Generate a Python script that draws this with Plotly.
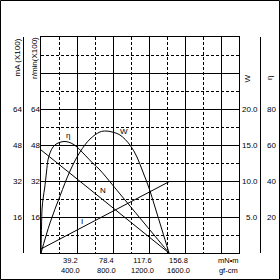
import plotly.graph_objects as go

# ---- data ----
torque_ticks = [39.2, 78.4, 117.6, 156.8]          # mN·m
gfcm_labels = ["400.0", "800.0", "1200.0", "1600.0"]
left_ticks = [16, 32, 48, 64]                      # mA(x100) and r/min(x100)
w_ticks = [5.0, 10.0, 15.0, 20.0]                  # W
eta_ticks = [20, 40, 60, 80]                       # %

# speed N (r/min x100) vs torque
n_torque = [0.0, 139.4]
n_speed = [45.8, 0.0]

# current I (mA x100) vs torque
i_torque = [0.0, 140.0]
i_current = [1.8, 31.8]

# output power W vs torque
w_torque = [0.0, 9.8, 20.7, 31.6, 42.5, 53.4, 64.2, 70.8, 77.3, 86.0, 96.9,
            104.5, 111.0, 117.6, 124.1, 131.8, 139.4]
w_power = [0.0, 4.17, 7.92, 11.39, 14.03, 15.83, 16.81, 16.94, 16.81, 16.39,
           15.0, 13.33, 11.25, 9.03, 6.39, 3.19, 0.0]

# efficiency eta (%) vs torque
e_torque = [0.0, 0.6, 1.2, 2.5, 4.0, 6.0, 7.6, 9.8, 13.1, 17.4, 22.9, 27.2,
            32.7, 39.2, 47.9, 56.6, 64.2, 86.0, 107.8, 124.1, 139.4]
e_eff = [0.0, 15.0, 25.0, 31.1, 36.1, 45.0, 51.7, 55.6, 58.9, 60.8, 61.8, 61.9,
         61.1, 58.9, 54.4, 49.8, 46.1, 32.8, 19.4, 9.4, 0.0]

FONT = dict(family="Liberation Sans", size=8, color="black")
FONT_X = dict(family="Liberation Sans", size=7.5, color="black")

# pixel geometry helpers for paper coordinates
L, R, T, B = 41, 239, 37, 253
def px(xp):
    return (xp - L) / (R - L)
def py(yp):
    return (B - yp) / (B - T)

fig = go.Figure()
line = dict(color="black", width=1)
fig.add_trace(go.Scatter(x=n_torque, y=n_speed, mode="lines", line=line, yaxis="y"))
fig.add_trace(go.Scatter(x=i_torque, y=i_current, mode="lines", line=line, yaxis="y"))
fig.add_trace(go.Scatter(x=w_torque, y=w_power, mode="lines",
                         line=dict(color="black", width=1, shape="spline"), yaxis="y2"))
fig.add_trace(go.Scatter(x=e_torque, y=e_eff, mode="lines",
                         line=dict(color="black", width=1, shape="spline"), yaxis="y3"))

grid_minor = dict(showgrid=True, gridcolor="black", gridwidth=1, griddash="3px,2px")
fig.update_layout(
    width=280, height=280,
    margin=dict(l=L, r=280 - R, t=T, b=280 - B, pad=0),
    paper_bgcolor="white", plot_bgcolor="white",
    showlegend=False,
    font=FONT,
    xaxis=dict(range=[0, 215.6], tick0=0, dtick=39.2, showgrid=True, gridcolor="black",
               gridwidth=1, showticklabels=False, ticks="", zeroline=False,
               showline=True, mirror=True, linecolor="black", linewidth=1,
               minor=dict(dtick=19.6, tick0=0, **grid_minor)),
    yaxis=dict(range=[0, 96], tick0=0, dtick=16, showgrid=True, gridcolor="black",
               gridwidth=1, showticklabels=False, ticks="", zeroline=False,
               showline=True, mirror=True, linecolor="black", linewidth=1,
               minor=dict(dtick=8, tick0=0, **grid_minor)),
    yaxis2=dict(range=[0, 30], overlaying="y", visible=False),
    yaxis3=dict(range=[0, 120], overlaying="y", visible=False),
)

def A(**kw):
    d = dict(showarrow=False, font=FONT, xanchor="center", yanchor="middle", borderpad=0)
    d.update(kw)
    return d

ann = []
# x tick labels (two rows, slightly left of the grid line)
for t, g in zip(torque_ticks, gfcm_labels):
    ann.append(A(x=t, xref="x", xshift=-7, y=py(265.5), yref="paper",
                 text=f"{t:.1f}<br>{g}", font=FONT_X))
ann.append(A(x=px(228), xref="paper", y=py(265.5), yref="paper",
             text="mN•m<br>gf-cm", font=FONT_X))
# left tick labels
for v in left_ticks:
    ann.append(A(x=px(22.5), xref="paper", y=v, yref="y", text=str(v), xanchor="right"))
    ann.append(A(x=px(40.5), xref="paper", y=v, yref="y", text=str(v), xanchor="right"))
# right tick labels
for w in w_ticks:
    ann.append(A(x=px(259), xref="paper", y=w, yref="y2", text=f"{w:.1f}", xanchor="right"))
for e in eta_ticks:
    ann.append(A(x=px(277), xref="paper", y=e, yref="y3", text=str(e), xanchor="right"))
# axis titles (rotated)
ann.append(A(x=px(16.5), xref="paper", y=py(58), yref="paper", text="mA (X100)",
             textangle=-90))
ann.append(A(x=px(34), xref="paper", y=py(58), yref="paper", text="r/min(X100)",
             textangle=-90))
ann.append(A(x=px(247), xref="paper", y=py(78.5), yref="paper", text="W",
             textangle=-90))
ann.append(A(x=px(269.5), xref="paper", y=py(78.5), yref="paper", text="η",
             textangle=-90))
# curve labels
ann.append(A(x=29.1, xref="x", y=52.4, yref="y", text="η"))
ann.append(A(x=90.4, xref="x", y=53.8, yref="y", text="W"))
ann.append(A(x=67.5, xref="x", y=27.8, yref="y", text="N"))
ann.append(A(x=44.1, xref="x", y=13.8, yref="y", text="I"))
fig.update_layout(annotations=ann)

shapes = [
    dict(type="rect", xref="paper", yref="paper", x0=px(0.5), x1=px(279.5),
         y0=py(279.5), y1=py(0.5), line=dict(color="black", width=1)),
    dict(type="line", xref="paper", yref="paper", x0=px(23.5), x1=px(23.5),
         y0=0, y1=1, line=dict(color="black", width=1)),
    dict(type="line", xref="paper", yref="paper", x0=px(260.5), x1=px(260.5),
         y0=0, y1=1, line=dict(color="black", width=1)),
]
fig.update_layout(shapes=shapes)

fig.write_html("out.html")
